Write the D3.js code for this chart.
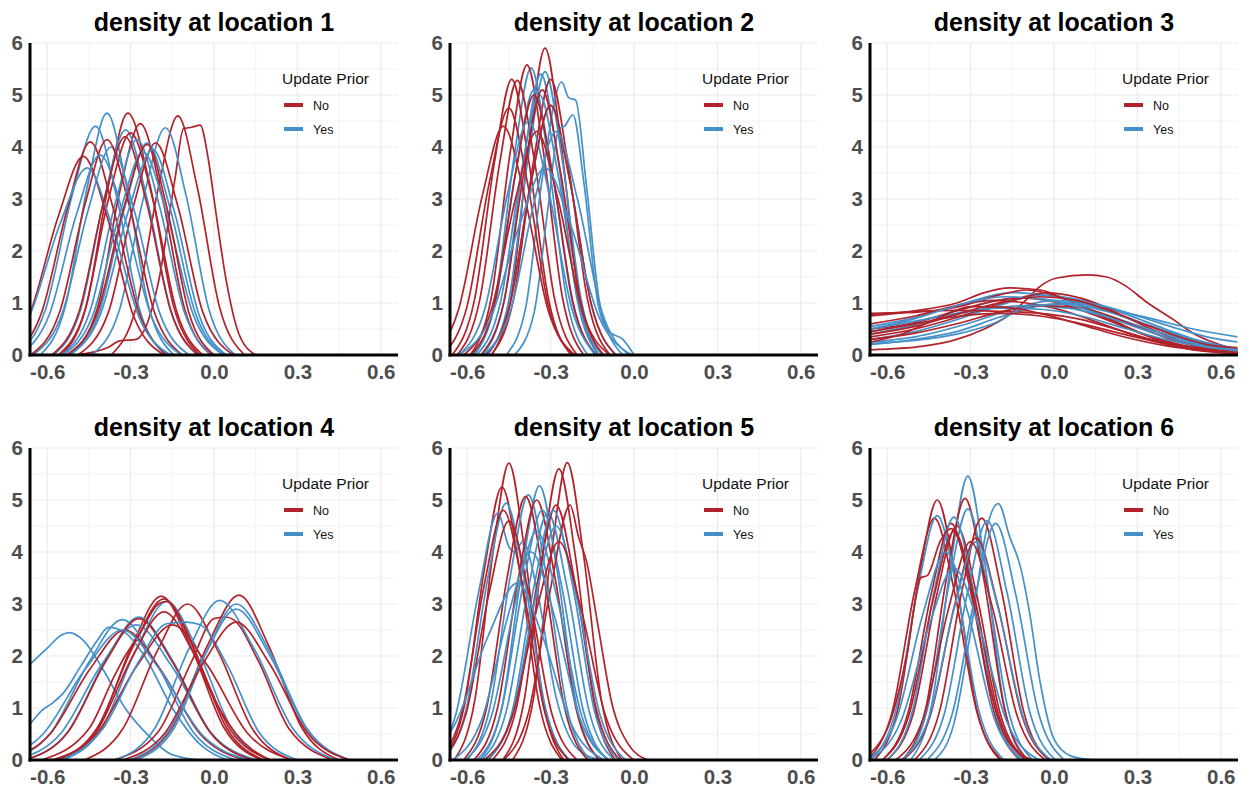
<!DOCTYPE html>
<html>
<head>
<meta charset="utf-8">
<script src="https://cdn.jsdelivr.net/npm/d3@7"></script>
<style>
  body { margin: 0; background: #fff; }
  svg { display: block; font-family: "Liberation Sans", Arial, sans-serif; }
</style>
</head>
<body>
<div id="chart"></div>
<script>
// Titles, legend groups and ticks
const titles = ["density at location 1", "density at location 2", "density at location 3",
                "density at location 4", "density at location 5", "density at location 6"];
const groups = ["No", "Yes"];
const groupColors = ["#b2222a", "#4590c8"];
const legendTitle = "Update Prior";
const xTicks = [-0.6, -0.3, 0.0, 0.3, 0.6];
const xMinor = [-0.45, -0.15, 0.15, 0.45];
const yTicks = [0, 1, 2, 3, 4, 5, 6];
const yMinor = [0.5, 1.5, 2.5, 3.5, 4.5, 5.5];

// Density curves: each curve is a list of [x, density] knots
const loc1No = [
  [[-0.55,0],[-0.46,0.93],[-0.38,3.26],[-0.31,4.65],[-0.23,3.26],[-0.145,0.93],[-0.05,0]],
  [[-0.37,0],[-0.28,0.92],[-0.2,3.22],[-0.13,4.6],[-0.06,3.22],[0.02,0.92],[0.11,0]],
  [[-0.5,0],[-0.38,0.15],[-0.34,0.27],[-0.28,0.3],[-0.2,1.4],[-0.14,3.4],[-0.11,4.35],[-0.08,4.38],[-0.05,4.42],[-0.02,3.75],[0.0,3.0],[0.045,1.4],[0.09,0.4],[0.15,0]],
  [[-0.52,0],[-0.42,0.89],[-0.34,3.12],[-0.265,4.45],[-0.19,3.12],[-0.106,0.89],[-0.01,0]],
  [[-0.56,0],[-0.465,0.85],[-0.38,2.99],[-0.3,4.27],[-0.22,2.99],[-0.135,0.85],[-0.04,0]],
  [[-0.49,0],[-0.38,0.82],[-0.29,2.86],[-0.21,4.08],[-0.13,2.86],[-0.04,0.82],[0.07,0]],
  [[-0.72,0],[-0.62,0.82],[-0.525,2.87],[-0.445,4.1],[-0.365,2.87],[-0.27,0.82],[-0.17,0]],
  [[-0.78,0],[-0.665,0.76],[-0.56,2.67],[-0.47,3.82],[-0.385,2.67],[-0.29,0.76],[-0.18,0]],
  [[-0.66,0],[-0.555,0.83],[-0.464,2.9],[-0.385,4.14],[-0.306,2.9],[-0.215,0.83],[-0.114,0]],
  [[-0.584,0],[-0.485,0.84],[-0.397,2.94],[-0.32,4.2],[-0.243,2.94],[-0.155,0.84],[-0.056,0]],
  [[-0.53,0],[-0.42,0.81],[-0.324,2.84],[-0.24,4.05],[-0.17,2.84],[-0.09,0.81],[0.0,0]]
];
const loc1Yes = [
  [[-0.625,0],[-0.535,0.93],[-0.455,3.26],[-0.385,4.65],[-0.315,3.26],[-0.235,0.93],[-0.145,0]],
  [[-0.714,0],[-0.606,0.88],[-0.51,3.08],[-0.426,4.4],[-0.352,3.08],[-0.268,0.88],[-0.174,0]],
  [[-0.439,0],[-0.34,0.87],[-0.252,3.06],[-0.175,4.37],[-0.1,3.06],[-0.018,0.87],[0.077,0]],
  [[-0.577,0],[-0.48,0.87],[-0.394,3.03],[-0.318,4.33],[-0.242,3.03],[-0.156,0.87],[-0.059,0]],
  [[-0.548,0],[-0.447,0.83],[-0.356,2.9],[-0.277,4.14],[-0.198,2.9],[-0.107,0.83],[-0.006,0]],
  [[-0.516,0],[-0.413,0.82],[-0.32,2.86],[-0.24,4.08],[-0.16,2.86],[-0.068,0.82],[0.036,0]],
  [[-0.651,0],[-0.546,0.8],[-0.452,2.8],[-0.37,4.0],[-0.288,2.8],[-0.195,0.8],[-0.089,0]],
  [[-0.792,0],[-0.666,0.72],[-0.554,2.52],[-0.456,3.6],[-0.369,2.52],[-0.269,0.72],[-0.156,0]],
  [[-0.703,0],[-0.593,0.77],[-0.495,2.7],[-0.41,3.85],[-0.325,2.7],[-0.227,0.77],[-0.117,0]],
  [[-0.543,0],[-0.435,0.78],[-0.339,2.73],[-0.255,3.9],[-0.171,2.73],[-0.075,0.78],[0.033,0]],
  [[-0.52,0],[-0.408,0.79],[-0.308,2.77],[-0.22,3.95],[-0.143,2.77],[-0.055,0.79],[0.044,0]]
];

const loc2No = [
  [[-0.512,0],[-0.44,1.18],[-0.376,4.13],[-0.32,5.9],[-0.264,4.13],[-0.2,1.18],[-0.128,0]],
  [[-0.589,0],[-0.513,1.12],[-0.445,3.91],[-0.385,5.58],[-0.326,3.91],[-0.258,1.12],[-0.181,0]],
  [[-0.654,0],[-0.574,1.06],[-0.502,3.71],[-0.44,5.3],[-0.378,3.71],[-0.307,1.06],[-0.226,0]],
  [[-0.636,0],[-0.555,1.06],[-0.483,3.7],[-0.42,5.28],[-0.357,3.7],[-0.285,1.06],[-0.204,0]],
  [[-0.514,0],[-0.434,1.06],[-0.362,3.71],[-0.3,5.3],[-0.238,3.71],[-0.167,1.06],[-0.086,0]],
  [[-0.69,0],[-0.6,0.95],[-0.52,3.33],[-0.45,4.75],[-0.384,3.33],[-0.308,0.95],[-0.222,0]],
  [[-0.727,0],[-0.631,0.88],[-0.545,3.08],[-0.47,4.4],[-0.395,3.08],[-0.31,0.88],[-0.213,0]],
  [[-0.586,0],[-0.501,1.0],[-0.426,3.5],[-0.36,5.0],[-0.294,3.5],[-0.219,1.0],[-0.134,0]],
  [[-0.551,0],[-0.468,1.02],[-0.394,3.57],[-0.33,5.1],[-0.266,3.57],[-0.192,1.02],[-0.109,0]],
  [[-0.535,0],[-0.447,0.96],[-0.369,3.36],[-0.3,4.8],[-0.231,3.36],[-0.153,0.96],[-0.065,0]],
  [[-0.612,0],[-0.514,0.86],[-0.426,3.01],[-0.35,4.3],[-0.274,3.01],[-0.187,0.86],[-0.088,0]]
];
const loc2Yes = [
  [[-0.574,0],[-0.498,1.1],[-0.43,3.86],[-0.37,5.52],[-0.311,3.86],[-0.243,1.1],[-0.166,0]],
  [[-0.526,0],[-0.449,1.09],[-0.38,3.82],[-0.32,5.45],[-0.26,3.82],[-0.191,1.09],[-0.114,0]],
  [[-0.544,0],[-0.466,1.08],[-0.396,3.78],[-0.335,5.4],[-0.274,3.78],[-0.205,1.08],[-0.126,0]],
  [[-0.46,0],[-0.39,0.9],[-0.33,3.4],[-0.26,5.25],[-0.235,4.95],[-0.21,4.9],[-0.17,3.2],[-0.12,0.9],[-0.04,0]],
  [[-0.43,0],[-0.36,0.8],[-0.31,2.8],[-0.27,4.35],[-0.25,4.4],[-0.22,4.62],[-0.18,3.3],[-0.13,1.0],[-0.09,0.45],[-0.04,0.3],[0.0,0]],
  [[-0.581,0],[-0.498,1.02],[-0.424,3.57],[-0.36,5.1],[-0.296,3.57],[-0.222,1.02],[-0.139,0]],
  [[-0.566,0],[-0.481,1.0],[-0.406,3.5],[-0.34,5.0],[-0.274,3.5],[-0.199,1.0],[-0.114,0]],
  [[-0.535,0],[-0.447,0.96],[-0.369,3.36],[-0.3,4.8],[-0.231,3.36],[-0.153,0.96],[-0.065,0]],
  [[-0.63,0],[-0.536,0.9],[-0.453,3.15],[-0.38,4.5],[-0.307,3.15],[-0.224,0.9],[-0.13,0]],
  [[-0.542,0],[-0.444,0.86],[-0.356,3.01],[-0.28,4.3],[-0.204,3.01],[-0.117,0.86],[-0.018,0]],
  [[-0.632,0],[-0.515,0.72],[-0.411,2.52],[-0.32,3.6],[-0.229,2.52],[-0.125,0.72],[-0.008,0]]
];

const loc3No = [
  [[-0.66,0.1],[-0.47,0.17],[-0.35,0.3],[-0.255,0.49],[-0.17,0.74],[-0.1,1.06],[-0.05,1.32],[0.01,1.48],[0.12,1.54],[0.19,1.5],[0.26,1.32],[0.33,1.03],[0.43,0.68],[0.5,0.42],[0.58,0.23],[0.66,0.1]],
  [[-0.66,0.75],[-0.5,0.85],[-0.35,1.0],[-0.25,1.2],[-0.16,1.29],[-0.05,1.25],[0.05,1.05],[0.15,0.8],[0.25,0.55],[0.35,0.35],[0.45,0.2],[0.55,0.1],[0.66,0.05]],
  [[-0.66,0.8],[-0.5,0.82],[-0.35,0.92],[-0.2,1.15],[-0.1,1.25],[0.0,1.15],[0.1,0.95],[0.2,0.7],[0.3,0.45],[0.4,0.28],[0.5,0.15],[0.66,0.1]],
  [[-0.66,0.35],[-0.5,0.5],[-0.35,0.72],[-0.2,0.98],[-0.08,1.15],[-0.03,1.2],[0.05,1.15],[0.15,1.0],[0.25,0.75],[0.35,0.5],[0.45,0.28],[0.55,0.14],[0.66,0.1]],
  [[-0.66,0.5],[-0.5,0.62],[-0.35,0.85],[-0.2,1.05],[-0.12,1.1],[0.0,1.02],[0.12,0.82],[0.25,0.55],[0.37,0.3],[0.5,0.12],[0.66,0.05]],
  [[-0.66,0.6],[-0.5,0.75],[-0.35,0.95],[-0.22,1.05],[-0.1,1.0],[0.0,0.9],[0.12,0.7],[0.25,0.45],[0.37,0.25],[0.5,0.1],[0.66,0.03]],
  [[-0.66,0.3],[-0.5,0.42],[-0.35,0.6],[-0.2,0.82],[-0.05,0.95],[0.08,0.92],[0.2,0.75],[0.32,0.5],[0.45,0.25],[0.55,0.12],[0.66,0.08]],
  [[-0.66,0.78],[-0.5,0.84],[-0.35,0.86],[-0.2,0.84],[-0.05,0.8],[0.1,0.68],[0.22,0.5],[0.35,0.3],[0.48,0.15],[0.66,0.05]],
  [[-0.66,0.45],[-0.5,0.6],[-0.35,0.74],[-0.2,0.8],[-0.05,0.75],[0.1,0.6],[0.25,0.4],[0.4,0.22],[0.55,0.1],[0.66,0.05]],
  [[-0.66,0.25],[-0.55,0.4],[-0.42,0.7],[-0.3,0.93],[-0.18,0.92],[-0.05,0.8],[0.1,0.58],[0.25,0.35],[0.4,0.18],[0.55,0.08],[0.66,0.04]],
  [[-0.66,0.4],[-0.5,0.55],[-0.35,0.78],[-0.2,1.0],[-0.05,1.12],[0.08,1.05],[0.2,0.85],[0.32,0.6],[0.45,0.35],[0.55,0.2],[0.66,0.14]]
];
const loc3Yes = [
  [[-0.66,0.55],[-0.5,0.72],[-0.35,0.95],[-0.15,1.2],[0.0,1.12],[0.15,0.92],[0.3,0.65],[0.45,0.38],[0.55,0.22],[0.66,0.12]],
  [[-0.66,0.3],[-0.5,0.45],[-0.35,0.68],[-0.2,0.95],[-0.05,1.15],[0.1,1.05],[0.25,0.8],[0.4,0.5],[0.52,0.28],[0.66,0.12]],
  [[-0.66,0.2],[-0.5,0.3],[-0.35,0.45],[-0.2,0.72],[-0.05,0.95],[0.05,1.0],[0.2,0.88],[0.35,0.7],[0.5,0.5],[0.66,0.35]],
  [[-0.66,0.45],[-0.5,0.62],[-0.35,0.85],[-0.12,1.1],[0.05,1.0],[0.2,0.75],[0.35,0.48],[0.5,0.25],[0.66,0.1]],
  [[-0.66,0.25],[-0.5,0.35],[-0.3,0.62],[-0.15,0.88],[0.0,1.05],[0.15,0.98],[0.3,0.75],[0.45,0.5],[0.55,0.35],[0.66,0.25]],
  [[-0.66,0.5],[-0.5,0.65],[-0.3,0.85],[-0.1,0.95],[0.05,0.9],[0.2,0.72],[0.35,0.48],[0.5,0.25],[0.66,0.1]],
  [[-0.66,0.4],[-0.5,0.58],[-0.35,0.78],[-0.2,0.9],[-0.05,0.88],[0.1,0.75],[0.25,0.52],[0.4,0.3],[0.55,0.15],[0.66,0.08]],
  [[-0.66,0.22],[-0.5,0.28],[-0.35,0.4],[-0.22,0.6],[-0.08,0.95],[0.05,0.98],[0.18,0.85],[0.32,0.6],[0.45,0.38],[0.55,0.22],[0.66,0.12]],
  [[-0.66,0.5],[-0.5,0.7],[-0.35,0.95],[-0.18,1.12],[-0.05,1.08],[0.1,0.9],[0.25,0.62],[0.4,0.35],[0.55,0.17],[0.66,0.08]]
];

const loc4No = [
  [[-0.55,0],[-0.415,0.63],[-0.295,2.2],[-0.19,3.15],[-0.085,2.2],[0.035,0.63],[0.17,0]],
  [[-0.564,0],[-0.42,0.62],[-0.292,2.17],[-0.18,3.1],[-0.075,2.17],[0.045,0.62],[0.18,0]],
  [[-0.467,0],[-0.328,0.6],[-0.204,2.1],[-0.095,3.0],[0.014,2.1],[0.138,0.6],[0.277,0]],
  [[-0.294,0],[-0.15,0.63],[-0.022,2.22],[0.09,3.17],[0.195,2.22],[0.315,0.63],[0.45,0]],
  [[-0.36,0],[-0.2,0.55],[-0.08,1.9],[0.0,2.72],[0.04,2.75],[0.07,2.7],[0.16,1.9],[0.27,0.6],[0.43,0]],
  [[-0.678,0],[-0.525,0.54],[-0.389,1.9],[-0.27,2.72],[-0.151,1.9],[-0.015,0.54],[0.138,0]],
  [[-0.582,0],[-0.42,0.52],[-0.276,1.82],[-0.15,2.6],[-0.024,1.82],[0.12,0.52],[0.282,0]],
  [[-0.752,0],[-0.59,0.5],[-0.446,1.75],[-0.32,2.5],[-0.194,1.75],[-0.05,0.5],[0.112,0]],
  [[-0.564,0],[-0.42,0.57],[-0.292,2.0],[-0.18,2.85],[-0.068,2.0],[0.06,0.57],[0.204,0]],
  [[-0.62,0],[-0.45,0.6],[-0.36,1.6],[-0.32,2.0],[-0.27,2.4],[-0.2,3.0],[-0.17,3.05],[-0.1,2.5],[-0.02,1.4],[0.08,0.5],[0.2,0]],
  [[-0.328,0],[-0.175,0.53],[-0.039,1.86],[0.08,2.65],[0.199,1.86],[0.335,0.53],[0.488,0]]
];
const loc4Yes = [
  [[-0.66,1.85],[-0.6,2.15],[-0.55,2.4],[-0.52,2.45],[-0.47,2.3],[-0.4,1.75],[-0.32,1.0],[-0.23,0.44],[-0.15,0.1],[-0.05,0]],
  [[-0.66,0.7],[-0.62,0.95],[-0.58,1.1],[-0.54,1.3],[-0.48,1.8],[-0.42,2.3],[-0.38,2.55],[-0.32,2.45],[-0.25,2.0],[-0.15,1.0],[-0.05,0.3],[0.05,0]],
  [[-0.738,0],[-0.585,0.54],[-0.449,1.89],[-0.33,2.7],[-0.211,1.89],[-0.075,0.54],[0.078,0]],
  [[-0.678,0],[-0.525,0.55],[-0.389,1.93],[-0.27,2.75],[-0.151,1.93],[-0.015,0.55],[0.138,0]],
  [[-0.712,0],[-0.55,0.52],[-0.406,1.82],[-0.28,2.6],[-0.154,1.82],[-0.01,0.52],[0.152,0]],
  [[-0.542,0],[-0.403,0.61],[-0.279,2.14],[-0.17,3.05],[-0.061,2.14],[0.063,0.61],[0.202,0]],
  [[-0.352,0],[-0.213,0.61],[-0.089,2.15],[0.02,3.07],[0.143,2.15],[0.283,0.61],[0.44,0]],
  [[-0.28,0],[-0.145,0.6],[-0.025,2.1],[0.08,3.0],[0.199,2.1],[0.335,0.6],[0.488,0]],
  [[-0.304,0],[-0.16,0.58],[-0.032,2.03],[0.08,2.9],[0.199,2.03],[0.335,0.58],[0.488,0]],
  [[-0.55,0],[-0.4,0.6],[-0.27,1.9],[-0.17,2.62],[-0.1,2.65],[-0.05,2.6],[0.05,1.8],[0.16,0.55],[0.3,0]],
  [[-0.786,0],[-0.615,0.5],[-0.463,1.75],[-0.33,2.5],[-0.197,1.75],[-0.045,0.5],[0.126,0]]
];

const loc5No = [
  [[-0.647,0],[-0.573,1.14],[-0.507,4.0],[-0.45,5.71],[-0.393,4.0],[-0.327,1.14],[-0.253,0]],
  [[-0.691,0],[-0.61,1.05],[-0.538,3.68],[-0.475,5.25],[-0.412,3.68],[-0.34,1.05],[-0.259,0]],
  [[-0.437,0],[-0.363,1.14],[-0.297,4.0],[-0.24,5.72],[-0.183,4.0],[-0.117,1.14],[-0.043,0]],
  [[-0.472,0],[-0.396,1.12],[-0.329,3.92],[-0.27,5.6],[-0.211,3.92],[-0.144,1.12],[-0.068,0]],
  [[-0.576,0],[-0.491,1.0],[-0.416,3.5],[-0.35,5.0],[-0.284,3.5],[-0.209,1.0],[-0.124,0]],
  [[-0.613,0],[-0.53,1.01],[-0.455,3.55],[-0.39,5.07],[-0.325,3.55],[-0.25,1.01],[-0.167,0]],
  [[-0.51,0],[-0.424,0.98],[-0.347,3.43],[-0.28,4.9],[-0.213,3.43],[-0.136,0.98],[-0.05,0]],
  [[-0.47,0],[-0.38,0.9],[-0.3,3.3],[-0.23,4.9],[-0.2,4.3],[-0.17,3.8],[-0.13,2.6],[-0.08,1.1],[-0.02,0.3],[0.05,0]],
  [[-0.695,0],[-0.603,0.92],[-0.521,3.22],[-0.45,4.6],[-0.379,3.22],[-0.297,0.92],[-0.205,0]],
  [[-0.539,0],[-0.438,0.84],[-0.348,2.94],[-0.27,4.2],[-0.192,2.94],[-0.102,0.84],[-0.001,0]],
  [[-0.705,0],[-0.617,0.96],[-0.539,3.36],[-0.47,4.8],[-0.401,3.36],[-0.323,0.96],[-0.235,0]]
];
const loc5Yes = [
  [[-0.554,0],[-0.474,1.05],[-0.402,3.69],[-0.34,5.27],[-0.278,3.69],[-0.207,1.05],[-0.126,0]],
  [[-0.601,0],[-0.518,1.02],[-0.444,3.57],[-0.38,5.1],[-0.316,3.57],[-0.242,1.02],[-0.159,0]],
  [[-0.688,0],[-0.603,0.99],[-0.527,3.46],[-0.46,4.94],[-0.394,3.46],[-0.318,0.99],[-0.232,0]],
  [[-0.72,0],[-0.64,0.9],[-0.56,3.2],[-0.49,4.75],[-0.45,4.1],[-0.43,4.0],[-0.4,4.2],[-0.35,3.3],[-0.28,1.2],[-0.2,0.2],[-0.12,0]],
  [[-0.565,0],[-0.477,0.96],[-0.399,3.36],[-0.33,4.8],[-0.261,3.36],[-0.183,0.96],[-0.095,0]],
  [[-0.548,0],[-0.459,0.95],[-0.379,3.33],[-0.31,4.75],[-0.241,3.33],[-0.162,0.95],[-0.072,0]],
  [[-0.525,0],[-0.437,0.96],[-0.359,3.36],[-0.29,4.8],[-0.221,3.36],[-0.143,0.96],[-0.055,0]],
  [[-0.53,0],[-0.436,0.9],[-0.353,3.15],[-0.28,4.5],[-0.207,3.15],[-0.124,0.9],[-0.03,0]],
  [[-0.607,0],[-0.511,0.88],[-0.425,3.08],[-0.35,4.4],[-0.275,3.08],[-0.19,0.88],[-0.093,0]],
  [[-0.651,0],[-0.546,0.8],[-0.452,2.8],[-0.37,4.0],[-0.288,2.8],[-0.195,0.8],[-0.089,0]],
  [[-0.78,0],[-0.645,0.68],[-0.525,2.38],[-0.42,3.4],[-0.329,2.38],[-0.225,0.68],[-0.108,0]]
];

const loc6No = [
  [[-0.646,0],[-0.561,1.0],[-0.486,3.5],[-0.42,5.0],[-0.354,3.5],[-0.279,1.0],[-0.194,0]],
  [[-0.546,0],[-0.461,1.0],[-0.386,3.52],[-0.32,5.03],[-0.254,3.52],[-0.179,1.0],[-0.094,0]],
  [[-0.672,0],[-0.582,0.93],[-0.501,3.26],[-0.43,4.65],[-0.359,3.26],[-0.278,0.93],[-0.188,0]],
  [[-0.617,0],[-0.525,0.91],[-0.442,3.19],[-0.37,4.55],[-0.298,3.19],[-0.215,0.91],[-0.123,0]],
  [[-0.6,0],[-0.506,0.9],[-0.423,3.15],[-0.35,4.5],[-0.277,3.15],[-0.194,0.9],[-0.1,0]],
  [[-0.502,0],[-0.412,0.93],[-0.331,3.26],[-0.26,4.65],[-0.189,3.26],[-0.109,0.93],[-0.018,0]],
  [[-0.544,0],[-0.445,0.85],[-0.357,2.99],[-0.28,4.27],[-0.203,2.99],[-0.115,0.85],[-0.016,0]],
  [[-0.617,0],[-0.521,0.88],[-0.435,3.08],[-0.36,4.4],[-0.285,3.08],[-0.2,0.88],[-0.103,0]],
  [[-0.7,0],[-0.6,0.6],[-0.53,2.0],[-0.48,3.5],[-0.455,3.55],[-0.41,4.2],[-0.37,4.45],[-0.31,3.6],[-0.24,1.6],[-0.17,0.4],[-0.08,0]],
  [[-0.569,0],[-0.468,0.84],[-0.378,2.94],[-0.3,4.2],[-0.222,2.94],[-0.132,0.84],[-0.031,0]]
];
const loc6Yes = [
  [[-0.516,0],[-0.439,1.09],[-0.37,3.82],[-0.31,5.46],[-0.25,3.82],[-0.181,1.09],[-0.104,0]],
  [[-0.43,0],[-0.36,0.7],[-0.29,2.8],[-0.24,4.5],[-0.2,4.93],[-0.16,4.3],[-0.12,3.7],[-0.09,2.9],[-0.05,1.5],[0.0,0.4],[0.06,0.08],[0.14,0]],
  [[-0.543,0],[-0.456,0.97],[-0.378,3.38],[-0.31,4.83],[-0.242,3.38],[-0.165,0.97],[-0.077,0]],
  [[-0.66,0],[-0.57,0.94],[-0.49,3.29],[-0.42,4.7],[-0.35,3.29],[-0.27,0.94],[-0.18,0]],
  [[-0.6,0],[-0.51,0.93],[-0.43,3.27],[-0.36,4.67],[-0.29,3.27],[-0.21,0.93],[-0.12,0]],
  [[-0.485,0],[-0.393,0.92],[-0.311,3.22],[-0.24,4.6],[-0.169,3.22],[-0.087,0.92],[0.005,0]],
  [[-0.457,0],[-0.365,0.91],[-0.282,3.19],[-0.21,4.55],[-0.138,3.19],[-0.056,0.91],[0.037,0]],
  [[-0.671,0],[-0.566,0.8],[-0.472,2.8],[-0.39,4.0],[-0.308,2.8],[-0.215,0.8],[-0.109,0]],
  [[-0.549,0],[-0.448,0.84],[-0.358,2.94],[-0.28,4.2],[-0.202,2.94],[-0.112,0.84],[-0.011,0]],
  [[-0.665,0],[-0.551,0.74],[-0.449,2.59],[-0.36,3.7],[-0.271,2.59],[-0.17,0.74],[-0.055,0]]
];

const curvesNo = [loc1No, loc2No, loc3No, loc4No, loc5No, loc6No];
const curvesYes = [loc1Yes, loc2Yes, loc3Yes, loc4Yes, loc5Yes, loc6Yes];

// Layout
const W = 1249, H = 788;
const plotW = 368, plotH = 312;
const colLeft = [30, 450, 870];
const rowTop = [43, 448];

const svg = d3.select("#chart")
    .append("svg")
    .attr("width", W)
    .attr("height", H);

const x = d3.scaleLinear().domain([-0.662, 0.662]).range([0, plotW]);
const y = d3.scaleLinear().domain([0, 6]).range([plotH, 0]);

const line = d3.line()
    .x(d => x(d[0]))
    .y(d => y(d[1]))
    .curve(d3.curveMonotoneX);

titles.forEach((title, i) => {
    const left = colLeft[i % 3];
    const top = rowTop[Math.floor(i / 3)];
    const g = svg.append("g").attr("transform", `translate(${left},${top})`);

    // Gridlines (minor then major)
    g.append("g").selectAll("line.vminor").data(xMinor).enter().append("line")
        .attr("x1", d => x(d)).attr("x2", d => x(d)).attr("y1", 0).attr("y2", plotH)
        .attr("stroke", "#f3f3f3").attr("stroke-width", 1);
    g.append("g").selectAll("line.hminor").data(yMinor).enter().append("line")
        .attr("x1", 0).attr("x2", plotW).attr("y1", d => y(d)).attr("y2", d => y(d))
        .attr("stroke", "#f3f3f3").attr("stroke-width", 1);
    g.append("g").selectAll("line.vmajor").data(xTicks).enter().append("line")
        .attr("x1", d => x(d)).attr("x2", d => x(d)).attr("y1", 0).attr("y2", plotH)
        .attr("stroke", "#ebebeb").attr("stroke-width", 1.2);
    g.append("g").selectAll("line.hmajor").data(yTicks).enter().append("line")
        .attr("x1", 0).attr("x2", plotW).attr("y1", d => y(d)).attr("y2", d => y(d))
        .attr("stroke", "#ebebeb").attr("stroke-width", 1.2);

    // Clip curves to the panel
    const clipId = `clip${i}`;
    svg.append("clipPath").attr("id", clipId)
        .append("rect").attr("x", 0).attr("y", -2).attr("width", plotW).attr("height", plotH + 2);

    const curves = g.append("g").attr("clip-path", `url(#${clipId})`);
    const no = curvesNo[i], yes = curvesYes[i];
    const n = Math.max(no.length, yes.length);
    for (let j = 0; j < n; j++) {
        if (no[j]) curves.append("path").attr("d", line(no[j]))
            .attr("fill", "none").attr("stroke", groupColors[0]).attr("stroke-width", 1.7);
        if (yes[j]) curves.append("path").attr("d", line(yes[j]))
            .attr("fill", "none").attr("stroke", groupColors[1]).attr("stroke-width", 1.7);
    }

    // Axes
    const xAxis = g.append("g").attr("transform", `translate(0,${plotH})`)
        .call(d3.axisBottom(x).tickValues(xTicks).tickSize(0).tickPadding(9).tickFormat(d => d.toFixed(1)));
    const yAxis = g.append("g")
        .call(d3.axisLeft(y).tickValues(yTicks).tickSize(0).tickPadding(7).tickFormat(d3.format("d")));
    [xAxis, yAxis].forEach(a => {
        a.select(".domain").remove();
        a.selectAll("text")
            .attr("fill", "#4d4d4d")
            .style("font-size", "20.5px")
            .style("font-weight", "bold")
            .style("font-family", "'Liberation Sans', Arial, sans-serif");
    });
    g.append("line").attr("x1", 0).attr("x2", 0).attr("y1", 0).attr("y2", plotH + 1.5)
        .attr("stroke", "#000").attr("stroke-width", 3);
    g.append("line").attr("x1", -1.5).attr("x2", plotW).attr("y1", plotH).attr("y2", plotH)
        .attr("stroke", "#000").attr("stroke-width", 3);

    // Title
    g.append("text")
        .attr("x", plotW / 2).attr("y", -12)
        .attr("text-anchor", "middle")
        .style("font-size", "25px").style("font-weight", "bold")
        .attr("fill", "#000")
        .text(title);

    // Legend
    const lg = g.append("g").attr("transform", "translate(252,0)");
    lg.append("text").attr("x", 0).attr("y", 41)
        .style("font-size", "15.5px").attr("fill", "#111").text(legendTitle);
    groups.forEach((grp, k) => {
        lg.append("line").attr("x1", 2).attr("x2", 21)
            .attr("y1", 62 + k * 24).attr("y2", 62 + k * 24)
            .attr("stroke", groupColors[k]).attr("stroke-width", 4);
        lg.append("text").attr("x", 31).attr("y", 66.5 + k * 24)
            .style("font-size", "12.5px").attr("fill", "#111").text(grp);
    });
});
</script>
</body>
</html>
